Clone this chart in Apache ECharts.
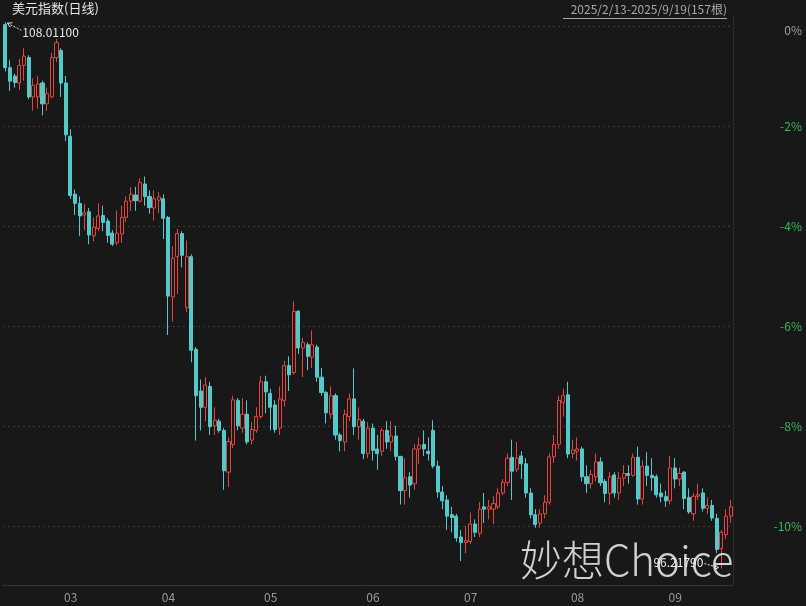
<!DOCTYPE html>
<html>
<head>
<meta charset="utf-8">
<script src="https://cdn.jsdelivr.net/npm/echarts@6/dist/echarts.min.js"></script>
<style>
html,body{margin:0;padding:0;background:#181818;}
#main{width:806px;height:606px;}
</style>
</head>
<body>
<div id="main"></div>
<script>
// ---- data ----
const dates = [
 '02-13','02-14','02-17','02-18','02-19','02-20','02-21','02-24','02-25','02-26','02-27','02-28',
 '03-03','03-04','03-05','03-06','03-07','03-10','03-11','03-12','03-13','03-14','03-17','03-18','03-19','03-20','03-21','03-24','03-25','03-26','03-27','03-28','03-31',
 '04-01','04-02','04-03','04-04','04-07','04-08','04-09','04-10','04-11','04-14','04-15','04-16','04-17','04-18','04-21','04-22','04-23','04-24','04-25','04-28','04-29','04-30',
 '05-01','05-02','05-05','05-06','05-07','05-08','05-09','05-12','05-13','05-14','05-15','05-16','05-19','05-20','05-21','05-22','05-23','05-26','05-27','05-28','05-29','05-30',
 '06-02','06-03','06-04','06-05','06-06','06-09','06-10','06-11','06-12','06-13','06-16','06-17','06-18','06-19','06-20','06-23','06-24','06-25','06-26','06-27','06-30',
 '07-01','07-02','07-03','07-04','07-07','07-08','07-09','07-10','07-11','07-14','07-15','07-16','07-17','07-18','07-21','07-22','07-23','07-24','07-25','07-28','07-29','07-30','07-31',
 '08-01','08-04','08-05','08-06','08-07','08-08','08-11','08-12','08-13','08-14','08-15','08-18','08-19','08-20','08-21','08-22','08-25','08-26','08-27','08-28','08-29',
 '09-01','09-02','09-03','09-04','09-05','09-08','09-09','09-10','09-11','09-12','09-15','09-16','09-17','09-18','09-19'
];
const opens = [
 107.96,107.03,106.85,106.70,107.08,107.25,106.40,106.40,106.70,106.25,106.40,107.25,
 107.40,106.70,105.55,104.30,104.10,103.85,103.92,103.40,103.56,103.84,103.72,103.46,103.25,103.44,103.80,104.15,104.28,104.15,104.52,104.25,104.00,
 104.17,104.20,103.80,102.08,102.95,103.45,101.85,102.95,100.95,100.05,99.70,100.15,99.30,99.40,99.20,98.30,98.90,99.85,99.25,99.55,98.99,99.20,
 99.50,100.25,100.00,99.75,99.25,99.85,100.60,100.45,101.77,100.98,101.05,100.78,101.00,100.35,100.02,99.55,99.95,99.10,98.95,99.50,99.88,99.28,
 99.40,98.70,99.25,98.80,98.75,99.20,98.95,99.08,98.64,97.90,98.20,98.05,98.80,98.90,98.75,99.20,98.43,97.87,97.70,97.38,97.35,
 96.90,96.78,96.80,97.18,96.98,97.55,97.50,97.50,97.55,97.85,98.08,98.62,98.36,98.65,98.48,97.85,97.38,97.20,97.40,97.65,98.63,98.90,99.80,
 99.97,98.70,98.75,98.80,98.20,98.05,98.20,98.52,98.10,97.84,98.24,97.85,98.17,98.27,98.23,98.62,97.72,98.43,98.23,98.20,97.85,
 97.77,97.68,98.39,98.15,98.30,97.75,97.40,97.78,97.85,97.52,97.58,97.30,96.65,96.95,97.35
];
const highs = [
 108.011,107.20,106.90,107.22,107.45,107.30,106.80,106.85,106.75,106.60,107.35,107.65,
 107.45,106.85,105.70,104.40,104.25,104.09,104.00,103.80,104.10,104.05,103.78,103.52,103.95,104.05,104.25,104.45,104.46,104.64,104.68,104.38,104.38,
 104.35,104.30,103.83,103.18,103.55,103.50,103.30,103.00,101.00,100.30,100.35,100.25,99.70,99.45,99.25,99.05,99.95,99.90,99.90,99.85,99.38,99.70,
 100.38,100.38,100.10,99.85,100.15,100.70,100.80,101.98,101.80,101.20,101.10,101.36,101.05,100.55,100.05,100.15,100.00,99.15,99.65,100.00,100.54,99.70,
 99.45,99.38,99.35,99.10,99.25,99.40,99.40,99.30,98.65,98.60,98.30,98.90,99.05,99.20,99.05,99.42,98.55,98.00,97.80,97.55,97.40,
 97.05,97.14,97.43,97.28,97.65,97.85,97.70,97.78,97.95,98.15,98.70,99.00,98.95,98.75,98.60,97.95,97.50,97.50,97.80,98.70,99.10,99.95,100.10,
 100.25,99.00,99.05,98.85,98.45,98.35,98.70,98.62,98.15,98.30,98.30,98.30,98.45,98.45,98.70,98.85,98.55,98.73,98.60,98.25,98.05,
 97.90,98.65,98.60,98.40,98.32,97.95,97.85,98.05,97.95,97.75,97.70,97.40,97.05,97.50,97.70
];
const lows = [
 106.95,106.53,106.60,106.55,106.75,106.35,106.10,106.15,106.00,106.10,106.37,107.15,
 106.40,105.45,104.20,103.85,103.40,103.52,103.22,103.28,103.50,103.50,103.25,103.18,103.20,103.25,103.70,103.94,103.94,104.12,104.05,103.88,103.73,
 103.89,103.33,101.26,101.55,102.15,102.72,101.75,100.67,98.98,99.20,99.40,99.10,99.10,99.15,97.92,97.98,98.82,99.20,99.15,98.90,98.90,99.15,
 99.45,99.57,99.20,99.15,99.10,99.72,100.05,100.40,100.85,100.35,100.50,100.55,100.25,99.95,99.35,99.45,99.00,98.75,98.75,99.40,99.10,99.00,
 98.58,98.60,98.55,98.35,98.65,98.80,98.75,98.55,97.60,97.60,97.75,97.92,98.48,98.65,98.55,98.38,97.75,97.50,97.05,97.00,96.80,
 96.38,96.55,96.75,96.90,96.90,97.20,97.28,97.18,97.50,97.80,98.00,97.70,98.30,98.15,97.75,97.30,97.10,97.10,97.30,97.60,98.50,98.80,99.50,
 98.60,98.60,98.55,98.10,97.85,97.95,98.10,98.00,97.65,97.60,97.75,97.70,98.00,98.05,98.20,97.60,97.60,98.00,97.90,97.75,97.65,
 97.55,97.60,97.95,98.00,97.50,97.40,97.25,97.70,97.45,97.40,97.25,96.55,96.2179,96.85,97.20
];
const closes = [
 107.03,106.74,106.71,107.08,107.28,106.40,106.65,106.68,106.25,106.47,107.25,107.57,
 106.70,105.58,104.27,104.10,103.83,103.90,103.42,103.59,103.83,103.69,103.41,103.22,103.46,103.80,104.15,104.30,104.16,104.55,104.25,104.01,104.20,
 104.24,103.78,102.10,102.92,103.45,102.98,102.95,100.93,99.95,99.70,100.18,99.28,99.42,99.20,98.33,98.96,99.86,99.30,99.55,98.95,99.22,99.50,
 100.25,100.03,99.70,99.22,99.88,100.60,100.40,101.77,100.98,101.10,100.80,101.05,100.35,100.02,99.58,99.95,99.10,98.98,99.55,99.88,99.28,99.44,
 98.70,99.25,98.77,98.70,99.20,98.95,99.08,98.64,97.90,98.18,98.02,98.80,98.88,98.80,98.70,98.43,97.87,97.68,97.35,97.32,96.88,
 96.78,96.82,97.18,97.00,97.50,97.50,97.55,97.62,97.85,98.08,98.60,98.32,98.60,98.48,97.85,97.38,97.17,97.40,97.65,98.63,98.90,99.85,99.95,
 98.69,98.78,98.80,98.20,98.05,98.25,98.52,98.07,97.84,98.20,97.85,98.17,98.27,98.23,98.62,97.72,98.43,98.23,98.18,97.81,97.77,
 97.68,98.39,98.15,98.27,97.73,97.44,97.78,97.82,97.52,97.58,97.31,96.63,97.00,97.35,97.55
];
const basePrice = 107.93;              // 0% reference level
const pctTicks = [0, -2, -4, -6, -8, -10];
const titleText = '美元指数(日线)';
const rangeText = '2025/2/13-2025/9/19(157根)';
const watermark = '妙想Choice';

// ---- chart ----
const BG = '#181818';
const UP = '#e2463f';
const DOWN = '#55c9c9';
const FONT = '"Noto Sans CJK SC","Noto Sans",sans-serif';

const kData = dates.map((d, i) => [opens[i], closes[i], lows[i], highs[i]]);
const tickValues = pctTicks.map(p => basePrice * (1 + p / 100));
const yMax = basePrice * (1 + 0.2 / 100);
const yMin = basePrice * (1 - 11.18 / 100);
const pctOf = v => Math.round((v / basePrice - 1) * 100);

const chart = echarts.init(document.getElementById('main'), null, {renderer: 'canvas'});
const option = {
  backgroundColor: BG,
  animation: false,
  textStyle: {fontFamily: FONT},
  grid: {left: 3, right: 73, top: 16, bottom: 21, show: false},
  xAxis: {
    type: 'category',
    data: dates,
    boundaryGap: true,
    axisLine: {show: true, lineStyle: {color: '#333333', width: 1}},
    axisTick: {show: false},
    splitLine: {show: false},
    axisLabel: {
      color: '#9a9a9a', fontSize: 12, fontFamily: FONT,
      align: 'left', padding: [0, 0, 0, 3], margin: 6,
      interval: (idx, val) => idx > 0 && val.slice(0, 2) !== dates[idx - 1].slice(0, 2),
      formatter: v => v.slice(0, 2)
    }
  },
  yAxis: {
    type: 'value',
    position: 'right',
    min: yMin, max: yMax,
    scale: true,
    axisLine: {show: true, lineStyle: {color: '#2c2c2c', width: 1}},
    axisTick: {show: false, customValues: tickValues},
    splitLine: {show: true, lineStyle: {color: '#3a3a3a', type: [2, 3], width: 1}},
    axisLabel: {
      customValues: tickValues,
      align: 'right', margin: 69, fontSize: 12, fontFamily: FONT,
      formatter: v => pctOf(v) === 0 ? '{z|0%}' : '{n|' + pctOf(v) + '%}',
      rich: {
        z: {color: '#a0a0a0', fontSize: 12, fontFamily: FONT, padding: [8, 0, 0, 0]},
        n: {color: '#3fb45a', fontSize: 12, fontFamily: FONT, padding: [0, 0, 0, 0]}
      }
    }
  },
  series: [{
    type: 'candlestick',
    data: kData,
    barWidth: 3.6,
    itemStyle: {
      color: BG, borderColor: UP,
      color0: DOWN, borderColor0: DOWN,
      borderWidth: 1
    }
  }],
  graphic: []
};
chart.setOption(option);

// annotations for highest high and lowest low, placed via the chart's own scales
let hiIdx = 0, loIdx = 0;
highs.forEach((v, i) => { if (v > highs[hiIdx]) hiIdx = i; });
lows.forEach((v, i) => { if (v < lows[loIdx]) loIdx = i; });
const pHi = chart.convertToPixel({gridIndex: 0}, [dates[hiIdx], highs[hiIdx]]);
const pLo = chart.convertToPixel({gridIndex: 0}, [dates[loIdx], lows[loIdx]]);

const g = [
  {type: 'text', left: 12, top: 2, style: {text: titleText, fill: '#e6e6e6', font: '13px ' + FONT}},
  {type: 'text', right: 79, top: 3, style: {text: rangeText, fill: '#a8a8a8', font: '12px ' + FONT}},
  {type: 'line', shape: {x1: 563, y1: 18.5, x2: 727, y2: 18.5}, style: {stroke: '#a8a8a8', lineWidth: 1}},
  // high marker
  {type: 'line', shape: {x1: pHi[0] + 2, y1: pHi[1] + 1, x2: pHi[0] + 16, y2: pHi[1] + 8},
    style: {stroke: '#e8e8e8', lineWidth: 1, lineDash: [2, 1.5]}, z: 101},
  {type: 'polyline', shape: {points: [[pHi[0] + 7, pHi[1] + 0.5], [pHi[0] + 2, pHi[1] + 1], [pHi[0] + 5, pHi[1] + 5]]},
    style: {stroke: '#e8e8e8', lineWidth: 1, fill: null}, z: 101},
  {type: 'text', x: pHi[0] + 17, y: pHi[1] + 10,
    style: {text: highs[hiIdx].toFixed(5), fill: '#e6e6e6', font: '12px ' + FONT, textVerticalAlign: 'middle'}},
  // watermark
  {type: 'text', x: 520, y: 560, z: 100,
    style: {text: watermark, fill: 'rgba(235,235,235,0.88)', font: '300 42px ' + FONT, textVerticalAlign: 'middle'}},
  // low marker
  {type: 'line', shape: {x1: pLo[0] - 17, y1: pLo[1] - 5, x2: pLo[0] - 3, y2: pLo[1] - 1},
    style: {stroke: '#e8e8e8', lineWidth: 1, lineDash: [2, 1.5]}, z: 101},
  {type: 'polyline', shape: {points: [[pLo[0] - 7, pLo[1] - 4], [pLo[0] - 3, pLo[1] - 1], [pLo[0] - 7, pLo[1] + 1]]},
    style: {stroke: '#e8e8e8', lineWidth: 1, fill: null}, z: 101},
  {type: 'text', x: pLo[0] - 18, y: pLo[1] - 6, z: 101,
    style: {text: lows[loIdx].toFixed(5), fill: '#f0f0f0', font: '12px ' + FONT, textAlign: 'right', textVerticalAlign: 'middle'}}
];
chart.setOption({graphic: g});
</script>
</body>
</html>
